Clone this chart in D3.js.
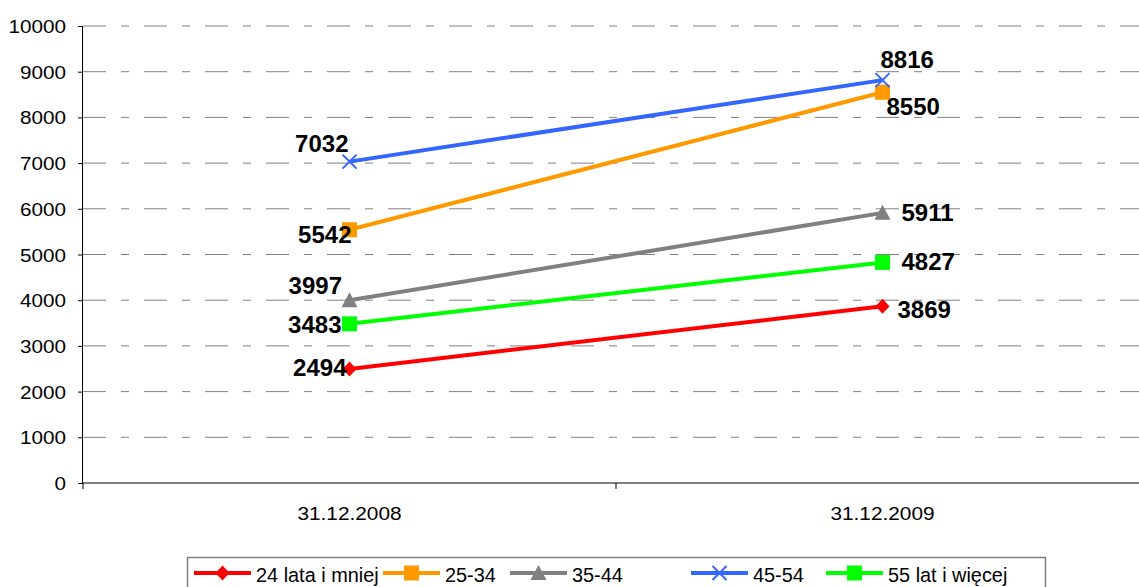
<!DOCTYPE html>
<html><head><meta charset="utf-8">
<script src="https://cdn.jsdelivr.net/npm/d3@7"></script>
<style>body{margin:0;background:#fff;}svg{display:block;font-family:Arial,"Liberation Sans",sans-serif;}</style>
</head><body><svg id="c" width="1139" height="587"></svg>
<script>
const categories = ["31.12.2008", "31.12.2009"];
const seriesNames = ["24 lata i mniej", "25-34", "35-44", "45-54", "55 lat i więcej"];
const values24 = [2494, 3869];
const values25 = [5542, 8550];
const values35 = [3997, 5911];
const values45 = [7032, 8816];
const values55 = [3483, 4827];
const yTicks = [0,1000,2000,3000,4000,5000,6000,7000,8000,9000,10000];

(function(){
const FONT = "Arial, 'Liberation Sans', sans-serif";
const colors = ["#ff0000", "#ff9900", "#808080", "#3366ff", "#00ff00"];
const markers = ["diamond", "square", "triangle", "x", "square"];
const series = [values24, values25, values35, values45, values55];
const labelPos = [
  [[-3, 7, "end"], [15, 12, "start"]],
  [[2, 13.5, "end"], [4, 23, "start"]],
  [[-7.5, -6, "end"], [19, 8, "start"]],
  [[-1, -10, "end"], [-2, -12, "start"]],
  [[-8, 9, "end"], [19, 7.6, "start"]]
];

const svg = d3.select("#c");
const pL = 83, pR = 1149, pT = 26, pB = 483;
const x = d3.scaleBand().domain(categories).range([pL, pR]);
const y = d3.scaleLinear().domain([0, 10000]).range([pB, pT]);

svg.append("g").selectAll("line").data(yTicks.filter(d => d > 0)).join("line")
  .attr("x1", pL).attr("x2", pR).attr("y1", d => y(d)).attr("y2", d => y(d))
  .attr("stroke", "#808080").attr("stroke-width", 1).attr("stroke-dasharray", "23,15,8,15");

const ya = svg.append("g").attr("transform", `translate(${pL},0)`)
  .call(d3.axisLeft(y).tickValues(yTicks).tickSize(5).tickPadding(0).tickFormat(d3.format("d")));
ya.select(".domain").attr("stroke", "#000").attr("d", `M-0.5,${pT}V${pB}`);
ya.selectAll(".tick line").attr("stroke", "#000");
ya.selectAll(".tick text")
  .attr("x", null).attr("dy", null)
  .attr("transform", "translate(-17,6.5) scale(1.09,1)")
  .attr("font-size", 19).attr("fill", "#000").attr("font-family", FONT);

const xa = svg.append("g").attr("transform", `translate(0,${pB})`);
xa.append("line").attr("x1", pL).attr("x2", pR).attr("stroke", "#000");
xa.selectAll("line.tk").data([pL, x(categories[1])]).join("line").attr("class","tk")
  .attr("x1", d => d).attr("x2", d => d).attr("y1", 0).attr("y2", 6).attr("stroke", "#000");
xa.selectAll("text").data(categories).join("text")
  .attr("transform", d => `translate(${x(d) + x.bandwidth()/2},37) scale(1.12,1)`)
  .attr("text-anchor", "middle")
  .attr("font-size", 18.6).attr("fill", "#000").attr("font-family", FONT).text(d => d);

const cx = c => x(c) + x.bandwidth()/2;

function drawMarker(g, type, color) {
  if (type === "diamond") {
    g.append("path").attr("d", "M0,-7.5L7,0L0,7.5L-7,0Z").attr("fill", color);
  } else if (type === "square") {
    g.append("rect").attr("x", -7.5).attr("y", -7.5).attr("width", 15).attr("height", 15).attr("fill", color);
  } else if (type === "triangle") {
    g.append("path").attr("d", "M0,-8L8,7L-8,7Z").attr("fill", color);
  } else if (type === "x") {
    g.append("path").attr("d", "M-7,-7L7,7M7,-7L-7,7")
      .attr("stroke", color).attr("stroke-width", 2).attr("fill", "none");
  }
}

const line = d3.line().x((d, i) => cx(categories[i])).y(d => y(d));
series.forEach((vals, si) => {
  svg.append("path").attr("d", line(vals)).attr("fill", "none")
    .attr("stroke", colors[si]).attr("stroke-width", 4);
  vals.forEach((v, i) => {
    const g = svg.append("g").attr("transform", `translate(${cx(categories[i])},${y(v)})`);
    drawMarker(g, markers[si], colors[si]);
  });
});
series.forEach((vals, si) => {
  vals.forEach((v, i) => {
    const p = labelPos[si][i];
    svg.append("text").attr("x", cx(categories[i]) + p[0]).attr("y", y(v) + p[1])
      .attr("text-anchor", p[2]).attr("font-size", 24).attr("font-weight", "bold")
      .attr("font-family", FONT).attr("fill", "#000").text(v);
  });
});

const lg = svg.append("g");
lg.append("rect").attr("x", 187.5).attr("y", 557.5).attr("width", 858).attr("height", 45)
  .attr("fill", "#fff").attr("stroke", "#808080").attr("stroke-width", 1.5);
const legX = [194, 383, 510, 691, 826];
seriesNames.forEach((n, i) => {
  const g = lg.append("g").attr("transform", `translate(${legX[i]},573)`);
  g.append("line").attr("x1", 0).attr("x2", 57).attr("stroke", colors[i]).attr("stroke-width", 4);
  const m = g.append("g").attr("transform", "translate(28.5,0)");
  drawMarker(m, markers[i], colors[i]);
  g.append("text").attr("transform", "translate(62,9) scale(1.02,1)")
    .attr("font-size", 19.5).attr("font-family", FONT).attr("fill", "#000").text(n);
});
})();
</script></body></html>
